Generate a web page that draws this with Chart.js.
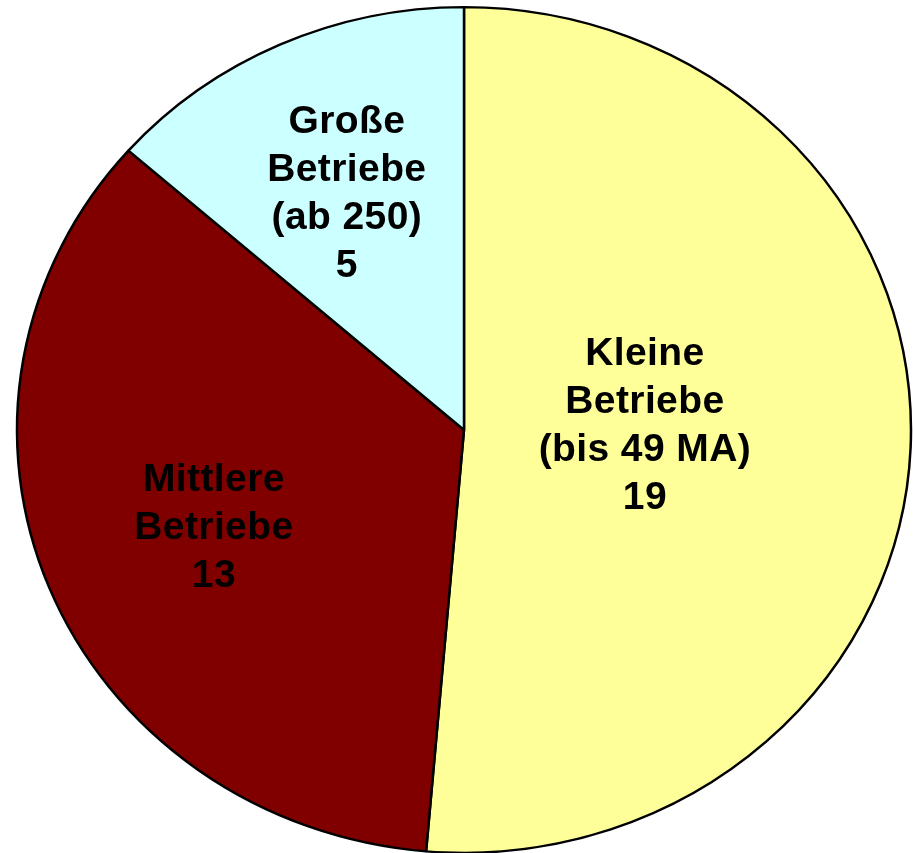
<!DOCTYPE html>
<html lang="de">
<head>
<meta charset="utf-8">
<title>Betriebe nach Größe</title>
<script src="https://cdn.jsdelivr.net/npm/chart.js@4.4.1/dist/chart.umd.min.js"></script>
<style>
  html, body { margin: 0; padding: 0; background: #fff; }
  #wrap { width: 913px; height: 853px; }
</style>
</head>
<body>
<div id="wrap"><canvas id="pie" width="913" height="853"></canvas></div>
<script>
// ── DATA ──
const CATEGORIES = ['Kleine Betriebe', 'Mittlere Betriebe', 'Große Betriebe'];
const LABEL_LINES = [
  ['Kleine', 'Betriebe', '(bis 49 MA)'],
  ['Mittlere', 'Betriebe'],
  ['Große', 'Betriebe', '(ab 250)']
];
const VALUES = [19, 13, 5];

// ── STYLE ──
const SLICE_COLORS = ['#FFFF99', '#800000', '#CCFFFF'];
const LABEL_FONT   = "bold 39px 'Liberation Sans', Arial, sans-serif";
const LINE_STEP    = 48;
const Y_SQUASH     = 0.946;           // pie is drawn slightly flattened
const LABEL_DIST   = [0.405, 0.603, 0.622];
const LABEL_NUDGE  = [-4.7, 0, -0.6]; // degrees

const squashPlugin = {
  id: 'squash',
  beforeDatasetsDraw(chart) {
    const arc = chart.getDatasetMeta(0).data[0];
    const ctx = chart.ctx;
    ctx.save();
    ctx.translate(0, arc.y);
    ctx.scale(1, Y_SQUASH);
    ctx.translate(0, -arc.y);
  },
  afterDatasetsDraw(chart) {
    chart.ctx.restore();
  }
};

const labelPlugin = {
  id: 'sliceLabels',
  afterDraw(chart) {
    const ctx = chart.ctx;
    const arcs = chart.getDatasetMeta(0).data;
    ctx.save();
    ctx.font = LABEL_FONT;
    ctx.letterSpacing = '0.4px';
    ctx.fillStyle = '#000';
    ctx.textAlign = 'center';
    ctx.textBaseline = 'alphabetic';
    arcs.forEach((arc, i) => {
      const mid = (arc.startAngle + arc.endAngle) / 2 + LABEL_NUDGE[i] * Math.PI / 180;
      const r = arc.outerRadius * LABEL_DIST[i];
      const x = arc.x + Math.cos(mid) * r;
      const y = arc.y + Math.sin(mid) * r * Y_SQUASH;
      const lines = LABEL_LINES[i].concat(String(VALUES[i]));
      const top = y - (lines.length - 1) * LINE_STEP / 2;
      lines.forEach((t, k) => ctx.fillText(t, x, top + k * LINE_STEP + 14));
    });
    ctx.restore();
  }
};

new Chart(document.getElementById('pie'), {
  type: 'pie',
  data: {
    labels: CATEGORIES,
    datasets: [{
      data: VALUES,
      backgroundColor: SLICE_COLORS,
      hoverBackgroundColor: SLICE_COLORS,
      borderColor: '#000',
      hoverBorderColor: '#000',
      borderWidth: 2.5,
      radius: 447,
      clip: false
    }]
  },
  options: {
    responsive: false,
    animation: false,
    events: [],
    layout: { padding: { left: 15, top: 7, right: 0, bottom: 0 } },
    plugins: {
      legend: { display: false },
      tooltip: { enabled: false }
    }
  },
  plugins: [squashPlugin, labelPlugin]
});
</script>
</body>
</html>
